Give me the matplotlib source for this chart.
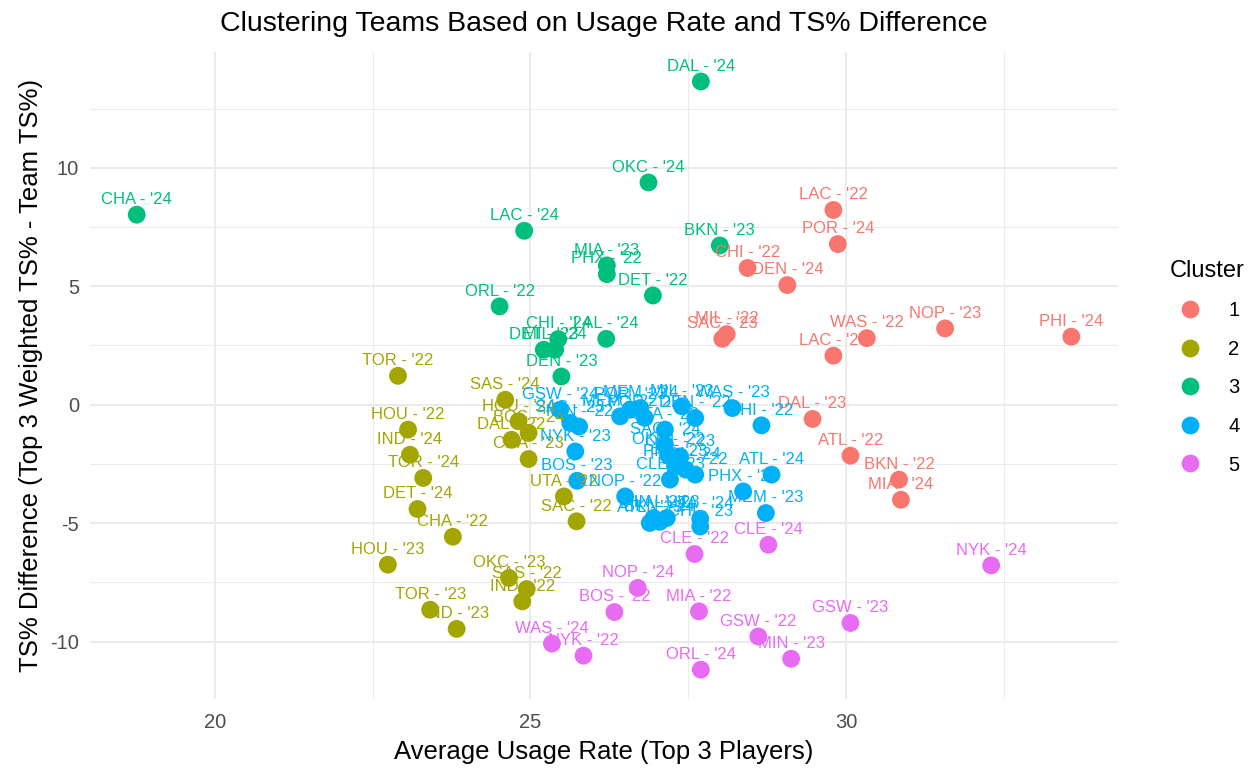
import matplotlib
matplotlib.use('Agg')
import matplotlib.pyplot as plt
from matplotlib.lines import Line2D

plt.rcParams['font.family'] = ['Liberation Sans', 'DejaVu Sans']
plt.rcParams['axes.unicode_minus'] = False

# cluster 1 (red), 3 (green), 2 (olive), 5 (pink), 4 (blue)
teams = ["LAC - '22", "POR - '24", "CHI - '22", "DEN - '24", "MIL - '22", "SAC - '23", "WAS - '22",
         "NOP - '23", "LAC - '23", "PHI - '24", "DAL - '23", "ATL - '22", "BKN - '22", "MIA - '24",
         "DAL - '24", "OKC - '24", "CHA - '24", "LAC - '24", "BKN - '23", "MIA - '23", "PHX - '22",
         "DET - '22", "ORL - '22", "LAL - '24", "CHI - '24", "DET - '23", "MIL - '24", "DEN - '23",
         "TOR - '22", "SAS - '24", "HOU - '24", "BOS - '24", "DAL - '22", "CHA - '23", "HOU - '22",
         "IND - '24", "TOR - '24", "DET - '24", "CHA - '22", "UTA - '22", "SAC - '22", "HOU - '23",
         "OKC - '23", "SAS - '22", "IND - '22", "TOR - '23", "IND - '23",
         "NYK - '24", "CLE - '22", "CLE - '24", "NOP - '24", "BOS - '22", "MIA - '22", "GSW - '22",
         "GSW - '23", "WAS - '24", "NYK - '22", "ORL - '24", "MIN - '23",
         "GSW - '24", "SAS - '23", "MIN - '22", "MEM - '22", "POR - '23", "MEM - '24", "MIL - '23",
         "DEN - '22", "UTA - '23", "WAS - '23", "PHI - '22", "NYK - '23", "BOS - '23", "SAC - '24",
         "OKC - '22", "ORL - '23", "PHI - '23", "LAL - '22", "CLE - '23", "NOP - '22", "MIN - '24",
         "ATL - '23", "LAL - '23", "CHI - '23", "PHX - '23", "ATL - '24", "MEM - '23", "BKN - '24",
         "PHX - '24", "POR - '22", "UTA - '24"]

usage = [29.80, 29.87, 28.44, 29.07, 28.11, 28.04, 30.33, 31.57, 29.80, 33.57, 29.47, 30.07, 30.84, 30.87,
         27.70, 26.87, 18.76, 24.90, 28.00, 26.21, 26.21, 26.94, 24.51, 26.20, 25.44, 25.21, 25.39, 25.49,
         22.90, 24.60, 24.81, 24.97, 24.70, 24.97, 23.06, 23.09, 23.30, 23.21, 23.77, 25.53, 25.73, 22.74,
         24.66, 24.94, 24.87, 23.41, 23.83,
         32.30, 27.60, 28.77, 26.70, 26.33, 27.67, 28.61, 30.07, 25.34, 25.84, 27.70, 29.13,
         25.47, 25.63, 25.77, 26.42, 26.58, 26.74, 27.40, 27.61, 27.13, 28.20, 28.66, 25.71, 25.74, 27.13,
         27.18, 27.37, 27.29, 27.61, 27.21, 26.50, 26.95, 26.89, 27.16, 27.69, 28.37, 28.82, 28.73, 27.05,
         27.46, 26.81, 27.69]

ts_diff = [8.22, 6.78, 5.77, 5.05, 2.98, 2.78, 2.81, 3.22, 2.07, 2.87, -0.60, -2.15, -3.16, -4.01,
           13.64, 9.38, 8.02, 7.34, 6.72, 5.88, 5.51, 4.61, 4.15, 2.78, 2.77, 2.32, 2.32, 1.19,
           1.22, 0.21, -0.70, -1.19, -1.48, -2.29, -1.05, -2.11, -3.09, -4.40, -5.57, -3.87, -4.92, -6.75,
           -7.31, -7.78, -8.30, -8.65, -9.46,
           -6.78, -6.30, -5.91, -7.73, -8.75, -8.72, -9.78, -9.21, -10.08, -10.59, -11.18, -10.72,
           -0.21, -0.77, -0.92, -0.49, -0.21, -0.14, -0.07, -0.56, -1.05, -0.14, -0.87, -1.97, -3.21, -1.69,
           -2.11, -2.18, -2.60, -2.95, -3.16, -3.87, -4.78, -4.99, -4.78, -5.14, -3.66, -2.95, -4.57, -4.94,
           -2.74, -0.55, -4.81]

cluster = [1] * 14 + [3] * 14 + [2] * 19 + [5] * 12 + [4] * 31

colors = {1: '#F8766D', 2: '#A3A500', 3: '#00BF7D', 4: '#00B0F6', 5: '#E76BF3'}

fig = plt.figure(figsize=(12.59, 7.78), dpi=100)
ax = fig.add_axes([0.0715, 0.1015, 0.8165, 0.8315])

pt_colors = [colors[c] for c in cluster]
ax.scatter(usage, ts_diff, s=165, c=pt_colors, linewidths=0, zorder=3)
for t, xv, yv, c in zip(teams, usage, ts_diff, cluster):
    ax.annotate(t, (xv, yv), xytext=(0, 11), textcoords='offset points',
                ha='center', va='center', fontsize=12, color=colors[c], zorder=4)

ax.set_xlim(18.02, 34.31)
ax.set_ylim(-12.42, 14.88)
ax.set_xticks([20, 25, 30])
ax.set_yticks([-10, -5, 0, 5, 10])
ax.set_xticks([22.5, 27.5, 32.5], minor=True)
ax.set_yticks([-7.5, -2.5, 2.5, 7.5, 12.5], minor=True)
ax.grid(which='major', color='#EBEBEB', linewidth=1.5, zorder=0)
ax.grid(which='minor', color='#EBEBEB', linewidth=0.75, zorder=0)
ax.set_axisbelow(True)
for s in ax.spines.values():
    s.set_visible(False)
ax.tick_params(which='both', length=0, labelsize=14.5, labelcolor='#4D4D4D')
ax.tick_params(axis='x', pad=10)
ax.tick_params(axis='y', pad=8)

ax.set_xlabel('Average Usage Rate (Top 3 Players)', fontsize=18.5, labelpad=6)
ax.set_ylabel('TS% Difference (Top 3 Weighted TS% - Team TS%)', fontsize=18.5, labelpad=5)
ax.set_title('Clustering Teams Based on Usage Rate and TS% Difference', fontsize=20.5, pad=15)

handles = [Line2D([0], [0], marker='o', linestyle='', markersize=12.8,
                  markerfacecolor=colors[k], markeredgewidth=0) for k in [1, 2, 3, 4, 5]]
leg = ax.legend(handles, ['1', '2', '3', '4', '5'], title='Cluster', loc='center left',
                bbox_to_anchor=(1.033, 0.513), frameon=False, fontsize=14.5, title_fontsize=17,
                labelspacing=0.97, handletextpad=0.9, alignment='left')

fig.savefig('out.png', dpi=100)
